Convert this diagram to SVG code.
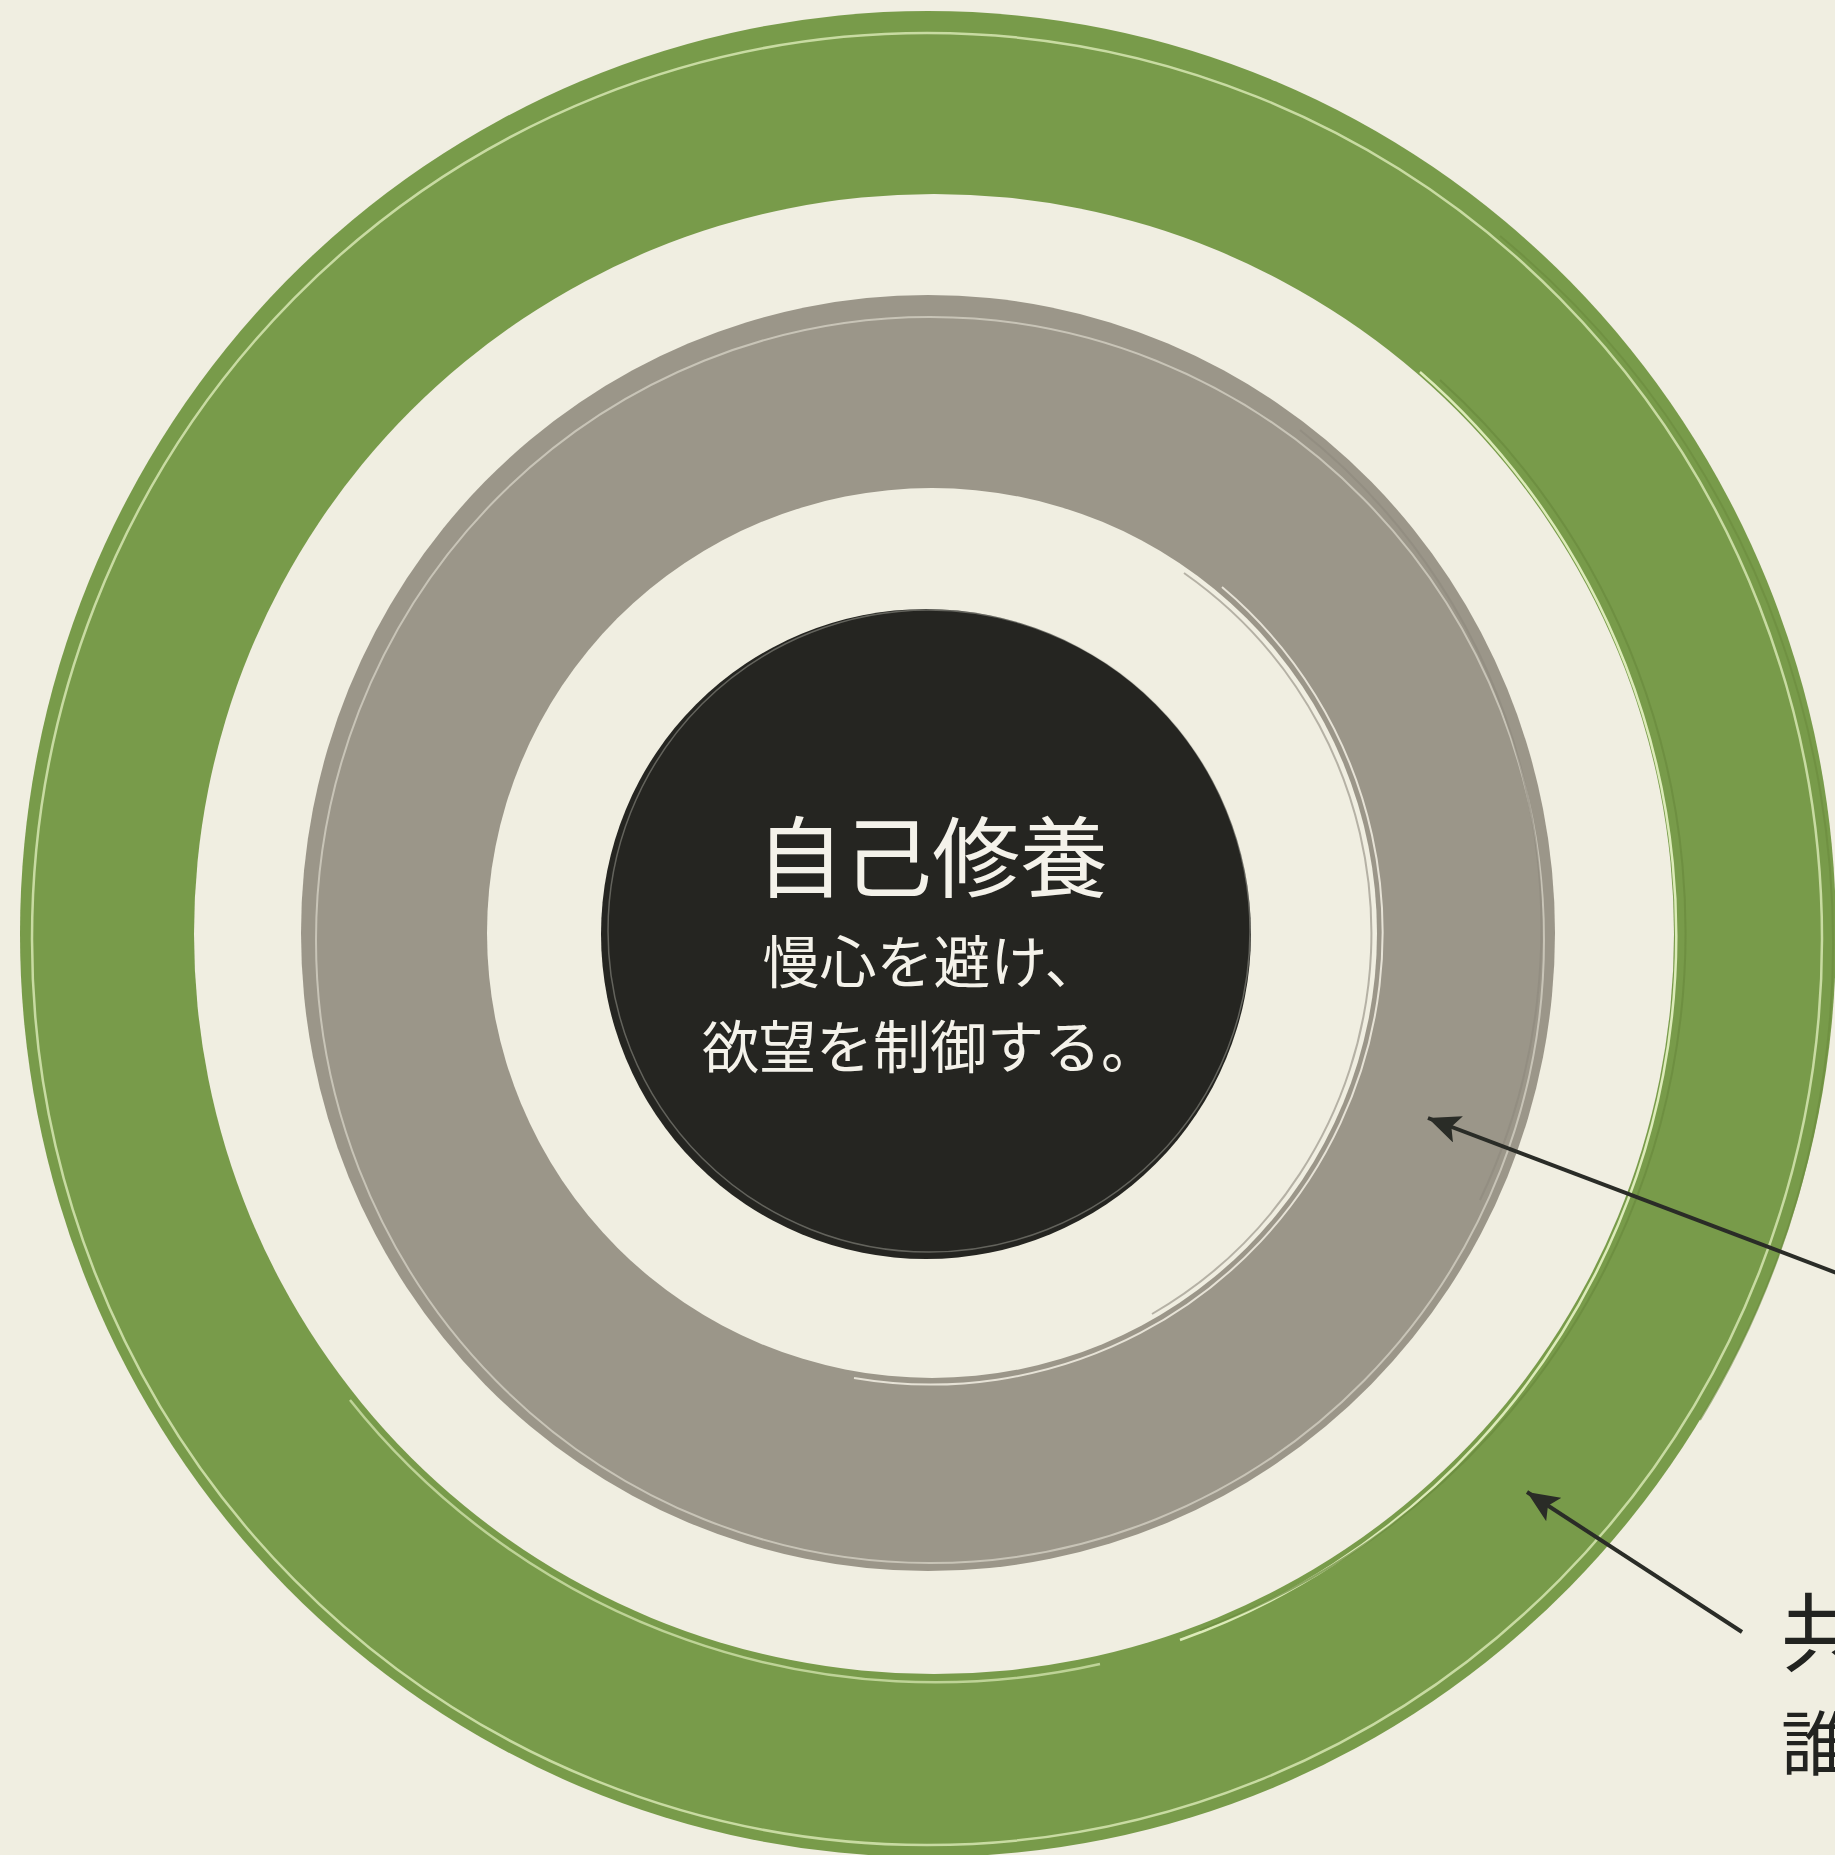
<svg xmlns="http://www.w3.org/2000/svg" width="1835" height="1855" viewBox="0 0 1835 1855">
  <style>
    .jp { font-family: "Noto Sans CJK JP", "Noto Sans CJK SC", sans-serif; }
    .center { fill: #f4f2ea; text-anchor: middle; font-weight: 400; }
    .label { fill: #222320; font-weight: 400; }
    .hl-green { fill: none; stroke: #dcebb8; stroke-width: 2.5; }
    .dk-green { fill: none; stroke: #6a8a3d; stroke-width: 2; }
    .hl-grey { fill: none; stroke: #e6e2d6; stroke-width: 2; }
    .dk-grey { fill: none; stroke: #8e897d; stroke-width: 2; }
    .conn { stroke: #2a2c27; stroke-width: 4; fill: none; marker-end: url(#arrow); }
  </style>
  <defs>
    <marker id="arrow" markerUnits="userSpaceOnUse" markerWidth="34" markerHeight="28" refX="32" refY="14" orient="auto">
      <path d="M0,0 L32,14 L0,28 L7,14 Z" fill="#2a2c27"/>
    </marker>
  </defs>

  <rect x="0" y="0" width="1835" height="1855" fill="#f0eee1"/>

  <g id="ring-outer-green">
    <ellipse cx="928" cy="934" rx="908" ry="923" fill="#789b4a"/>
    <ellipse cx="927" cy="939" rx="895" ry="906" class="hl-green" opacity="0.8"/>
    <path d="M1500,236 A912,916 0 0 1 1700,1420" class="dk-green" opacity="0.6"/>
    <circle cx="934" cy="934" r="740" fill="#f0eee1"/>
    <path d="M1420,372 A748,748 0 0 1 1180,1640" class="hl-green"/>
    <path d="M350,1400 A748,748 0 0 0 1100,1664" class="hl-green" opacity="0.7"/>
    <path d="M1440,380 A744,744 0 0 1 1200,1630" class="dk-green" opacity="0.7"/>
  </g>

  <g id="ring-grey">
    <ellipse cx="928" cy="933" rx="627" ry="638" fill="#9b9689"/>
    <ellipse cx="930" cy="940" rx="614" ry="623" class="hl-grey" opacity="0.6"/>
    <path d="M1300,430 A634,634 0 0 1 1480,1200" class="dk-grey" opacity="0.6"/>
    <circle cx="932" cy="933" r="445" fill="#f0eee1"/>
    <path d="M1222,587 A452,452 0 0 1 854,1378" class="hl-grey"/>
    <path d="M1184,573 A440,440 0 0 1 1152,1314" class="dk-grey" opacity="0.6"/>
  </g>

  <g id="node-center">
    <circle cx="926" cy="934" r="325" fill="#252521"/>
    <circle cx="929" cy="931" r="321" fill="none" stroke="#d8d6cc" stroke-width="1.5" opacity="0.35"/>
    <text class="jp center" x="932" y="890" font-size="88">自己修養</text>
    <text class="jp center" x="932" y="983" font-size="57">慢心を避け、</text>
    <text class="jp center" x="930" y="1068" font-size="57">欲望を制御する。</text>
  </g>

  <g id="label-outer">
    <text class="jp label" x="1781" y="1665" font-size="86">共</text>
    <text class="jp label" x="1781" y="1770" font-size="70">誰</text>
  </g>

  <g id="connectors">
    <line class="conn" x1="1850" y1="1278" x2="1428" y2="1118"/>
    <line class="conn" x1="1742" y1="1632" x2="1527" y2="1492"/>
  </g>
</svg>
